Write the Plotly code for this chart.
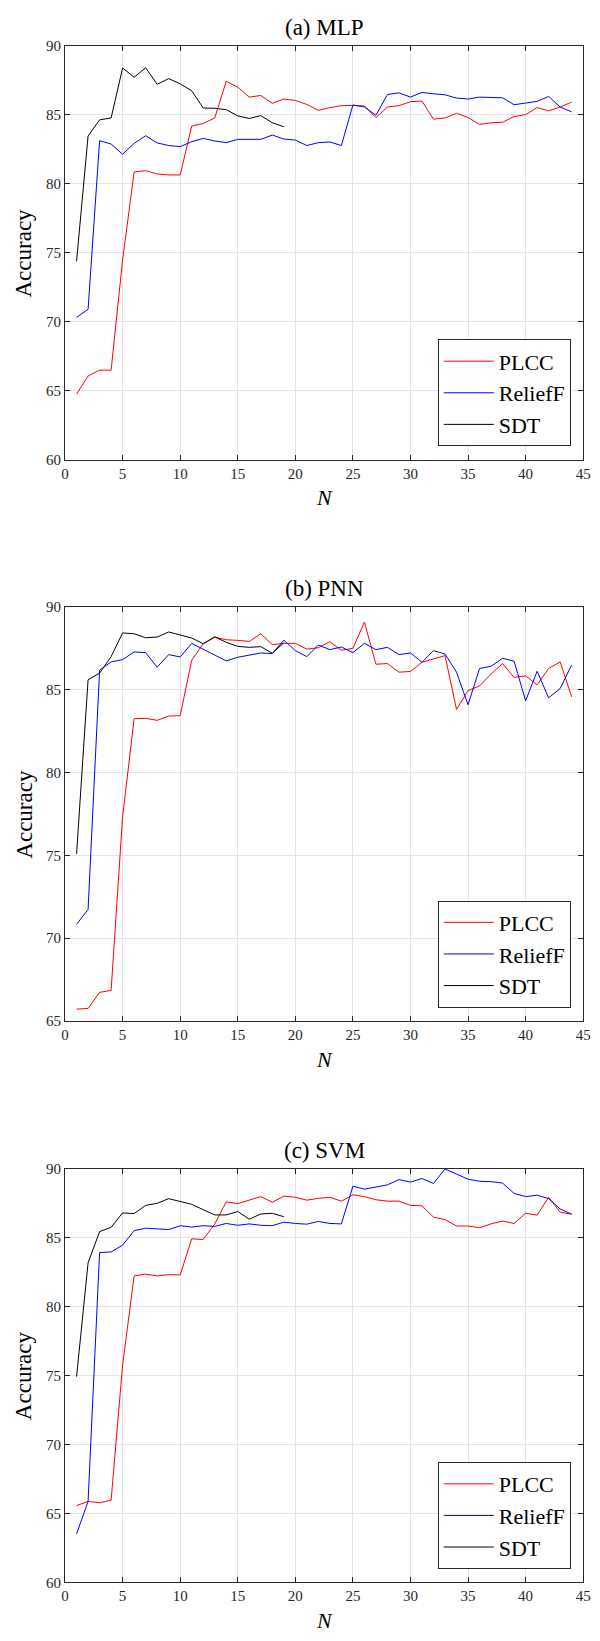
import plotly.graph_objects as go

N = list(range(1, 45))
N_sdt = list(range(1, 20))

# (a) MLP
mlp_plcc = [64.76, 66.08, 66.5, 66.5, 74.5, 80.86, 80.96, 80.72, 80.65, 80.65,
            84.19, 84.38, 84.78, 87.44, 87.01, 86.29, 86.41, 85.84, 86.15, 86.05,
            85.76, 85.33, 85.53, 85.67, 85.69, 85.65, 84.81, 85.57, 85.67, 85.96,
            86.0, 84.69, 84.78, 85.12, 84.81, 84.31, 84.43, 84.47, 84.88, 85.02,
            85.53, 85.29, 85.57, 85.93]
mlp_relief = [70.33, 70.91, 83.13, 82.89, 82.15, 82.94, 83.49, 82.97, 82.78, 82.70,
              83.06, 83.30, 83.11, 82.99, 83.23, 83.23, 83.23, 83.54, 83.25, 83.18,
              82.78, 82.99, 83.04, 82.78, 85.72, 85.57, 84.98, 86.48, 86.6, 86.29,
              86.63, 86.53, 86.46, 86.22, 86.15, 86.29, 86.27, 86.24, 85.74, 85.86,
              85.98, 86.34, 85.57, 85.22]
mlp_sdt = [74.4, 83.47, 84.64, 84.78, 88.4, 87.73, 88.42, 87.22, 87.63, 87.25,
           86.75, 85.50, 85.48, 85.38, 84.93, 84.74, 84.95, 84.43, 84.14]

# (b) PNN
pnn_plcc = [65.72, 65.76, 66.73, 66.85, 77.34, 83.26, 83.28, 83.16, 83.42, 83.44,
            86.79, 87.79, 88.17, 88.03, 87.99, 87.93, 88.39, 87.73, 87.81, 87.81,
            87.46, 87.55, 87.91, 87.39, 87.51, 89.10, 86.55, 86.59, 86.07, 86.11,
            86.67, 86.87, 87.07, 83.82, 84.96, 85.24, 85.95, 86.59, 85.75, 85.85,
            85.30, 86.29, 86.69, 84.58]
pnn_relief = [70.84, 71.74, 86.19, 86.69, 86.83, 87.29, 87.25, 86.37, 87.13, 86.99,
              87.81, 87.47, 87.11, 86.75, 86.97, 87.11, 87.23, 87.19, 88.01, 87.37,
              87.01, 87.71, 87.43, 87.59, 87.25, 87.81, 87.43, 87.57, 87.13, 87.23,
              86.67, 87.37, 87.17, 86.07, 84.10, 86.29, 86.43, 86.91, 86.73, 84.34,
              86.13, 84.52, 85.08, 86.51]
pnn_sdt = [75.09, 85.61, 86.01, 87.01, 88.44, 88.39, 88.15, 88.19, 88.50, 88.31,
           88.13, 87.79, 88.21, 87.87, 87.63, 87.57, 87.61, 87.21, 87.85]

# (c) SVM
svm_plcc = [65.57, 65.88, 65.78, 65.96, 75.77, 82.22, 82.35, 82.22, 82.32, 82.29,
            84.91, 84.86, 85.99, 87.59, 87.46, 87.71, 87.97, 87.56, 88.0, 87.92,
            87.71, 87.84, 87.92, 87.64, 88.10, 87.97, 87.74, 87.64, 87.64, 87.33,
            87.30, 86.48, 86.30, 85.84, 85.84, 85.71, 85.99, 86.20, 86.02, 86.76,
            86.63, 87.92, 86.84, 86.69]
svm_relief = [63.52, 65.88, 83.91, 83.96, 84.45, 85.50, 85.68, 85.61, 85.58, 85.86,
              85.76, 85.86, 85.81, 86.02, 85.89, 85.99, 85.89, 85.86, 86.12, 86.02,
              85.97, 86.17, 86.02, 85.99, 88.72, 88.51, 88.69, 88.82, 89.20, 89.02,
              89.28, 88.92, 89.97, 89.59, 89.23, 89.08, 89.05, 88.95, 88.20, 87.97,
              88.07, 87.82, 87.07, 86.69]
svm_sdt = [74.92, 83.17, 85.43, 85.74, 86.79, 86.74, 87.33, 87.48, 87.82, 87.59,
           87.41, 87.02, 86.64, 86.64, 86.89, 86.33, 86.71, 86.76, 86.51]

titles = ["(a) MLP", "(b) PNN", "(c) SVM"]
series_names = ["PLCC", "ReliefF", "SDT"]
colors = ["#ff0000", "#0000ff", "#000000"]
y_ranges = [[60, 90], [65, 90], [60, 90]]

panels = [
    (mlp_plcc, mlp_relief, mlp_sdt),
    (pnn_plcc, pnn_relief, pnn_sdt),
    (svm_plcc, svm_relief, svm_sdt),
]

H = 1641.0
W = 600.0
FONT = "Liberation Serif, DejaVu Serif, serif"
AXC = "#262626"
GRID = "#e3e3e3"

# pixel geometry of each axes box (top, bottom)
boxes = [(38.3, 456.3), (605.0, 1023.0), (1172.0, 1590.0)]
x_left, x_right = 62.3, 591.0
xc = (x_left + x_right) / 2 / W

fig = go.Figure()
layout = dict(
    width=600, height=1641, autosize=False,
    margin=dict(l=0, r=0, t=0, b=0),
    paper_bgcolor="white", plot_bgcolor="white",
    font=dict(family=FONT, color=AXC),
    annotations=[],
)

for i, (vals, title, yr, (top, bot)) in enumerate(zip(panels, titles, y_ranges, boxes)):
    k = "" if i == 0 else str(i + 1)
    leg = "legend" + k
    for j, (v, name, c) in enumerate(zip(vals, series_names, colors)):
        xs = N_sdt if j == 2 else N
        fig.add_trace(go.Scatter(
            x=xs, y=v, mode="lines", name=name,
            line=dict(color=c, width=1),
            xaxis="x" + k, yaxis="y" + k, legend=leg, showlegend=True,
        ))
    common = dict(
        showline=True, linecolor=AXC, linewidth=1, mirror="ticks",
        ticks="inside", ticklen=5, tickwidth=1, tickcolor=AXC,
        showgrid=True, gridcolor=GRID, gridwidth=1, zeroline=False,
        tickfont=dict(family=FONT, size=15, color=AXC),
        ticklabeloverflow="allow",
    )
    layout["xaxis" + k] = dict(
        common, range=[0, 45], tick0=0, dtick=5,
        domain=[x_left / W, x_right / W], anchor="y" + k,
    )
    layout["yaxis" + k] = dict(
        common, range=yr, tick0=60, dtick=5,
        domain=[1 - bot / H, 1 - top / H], anchor="x" + k,
    )
    layout[leg] = dict(
        x=578.3 / W, y=1 - (bot - 13.6) / H, xanchor="right", yanchor="bottom",
        bgcolor="white", bordercolor=AXC, borderwidth=1,
        font=dict(family=FONT, size=22, color="#000000"),
        itemwidth=50, tracegroupgap=0,
    )
    layout["annotations"] += [
        dict(text=title, x=xc, y=1 - (top - 18.3) / H, xref="paper", yref="paper",
             xanchor="center", yanchor="middle", showarrow=False,
             font=dict(family=FONT, size=23, color="#000000")),
        dict(text="Accuracy", x=20 / W, y=1 - ((top + bot) / 2) / H,
             xref="paper", yref="paper", xanchor="center", yanchor="middle",
             textangle=-90, showarrow=False,
             font=dict(family=FONT, size=23, color="#000000")),
        dict(text="<i>N</i>", x=xc, y=1 - (bot + 38.5) / H,
             xref="paper", yref="paper", xanchor="center", yanchor="middle",
             showarrow=False, font=dict(family=FONT, size=22, color="#000000")),
    ]

fig.update_layout(**layout)
fig.write_html(
    "out.html",
    config={"displayModeBar": False},
    post_script="document.body.style.margin='0';document.body.style.overflow='hidden';",
)
